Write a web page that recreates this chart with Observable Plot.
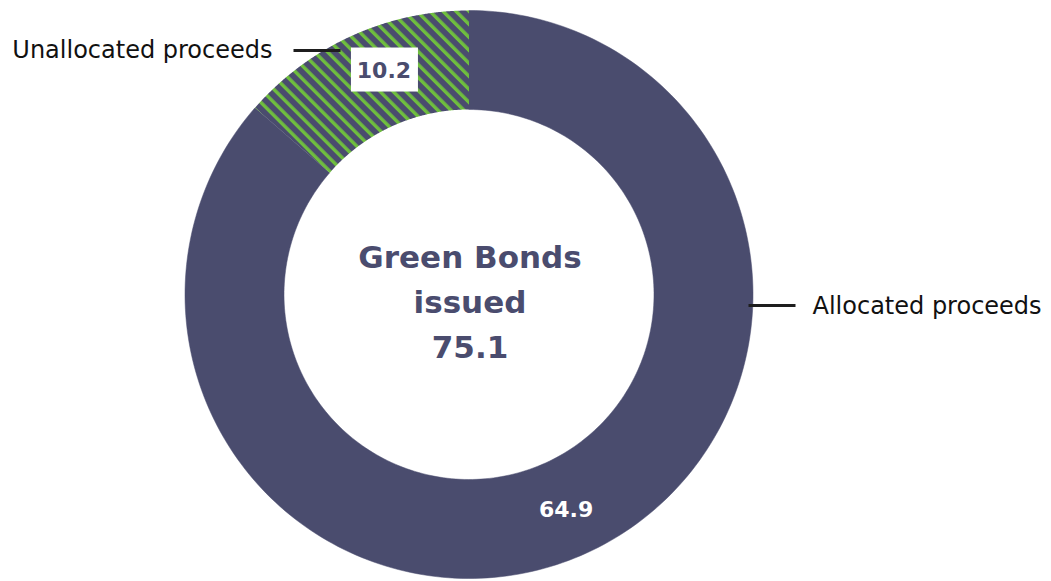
<!DOCTYPE html>
<html>
<head>
<meta charset="utf-8">
<script src="https://cdn.jsdelivr.net/npm/d3@7"></script>
<script src="https://cdn.jsdelivr.net/npm/@observablehq/plot@0.6"></script>
<style>
  html, body { margin: 0; padding: 0; background: #ffffff; }
  #chart { width: 1051px; height: 581px; }
</style>
</head>
<body>
<div id="chart"></div>
<script>
// ---- data ----
const categories = ["Allocated proceeds", "Unallocated proceeds"];
const values = [64.9, 10.2];
const valueLabels = ["64.9", "10.2"];
const centerLines = ["Green Bonds", "issued", "75.1"];

// ---- styling / layout ----
const W = 1051, H = 581;
const cx = 468.5, cy = 294, R = 284, Rin = 185;
const navy = "#4a4c6e";
const green = "#6fbe3e";
const innerFrac = Rin / R;
const total = d3.sum(values);
const X = px => (px - cx) / R;   // pixel -> data (annotation layout helpers)
const Y = py => (cy - py) / R;

// slices (angles clockwise from 12 o'clock)
let acc = 0;
const slices = categories.map((c, i) => {
  const a0 = acc / total * 2 * Math.PI;
  acc += values[i];
  const a1 = acc / total * 2 * Math.PI;
  return {category: c, value: values[i], label: valueLabels[i], a0, a1, mid: (a0 + a1) / 2};
});

function slicePolygon(s) {
  const n = 240, pts = [];
  for (let k = 0; k <= n; ++k) {
    const t = s.a0 + (s.a1 - s.a0) * k / n;
    pts.push({category: s.category, x: Math.sin(t), y: Math.cos(t)});
  }
  for (let k = n; k >= 0; --k) {
    const t = s.a0 + (s.a1 - s.a0) * k / n;
    pts.push({category: s.category, x: innerFrac * Math.sin(t), y: innerFrac * Math.cos(t)});
  }
  return pts;
}
const polys = slices.map(slicePolygon);
const midR = (1 + innerFrac) / 2;
const labelPos = slices.map(s => ({...s, x: midR * Math.sin(s.mid), y: midR * Math.cos(s.mid)}));

// pattern definitions
const defs = () => {
  const d = d3.create("svg:defs");
  const p = d.append("pattern")
    .attr("id", "stripes")
    .attr("patternUnits", "userSpaceOnUse")
    .attr("width", 9.2).attr("height", 9.2)
    .attr("patternTransform", "rotate(-45)");
  p.append("rect").attr("width", 9.2).attr("height", 9.2).attr("fill", navy);
  p.append("rect").attr("x", 0).attr("width", 3.4).attr("height", 9.2).attr("fill", green);
  return d.node();
};

const unalloc = labelPos[1];
const alloc = labelPos[0];

const chart = Plot.plot({
  width: W,
  height: H,
  marginLeft: cx - R,
  marginRight: W - (cx + R),
  marginTop: cy - R,
  marginBottom: H - (cy + R),
  x: {domain: [-1, 1], axis: null},
  y: {domain: [-1, 1], axis: null},
  style: {background: "#ffffff", fontFamily: "DejaVu Sans"},
  marks: [
    defs,
    Plot.line(polys[0], {x: "x", y: "y", fill: navy, stroke: navy, strokeWidth: 0.5, curve: "linear"}),
    Plot.line(polys[1], {x: "x", y: "y", fill: "url(#stripes)", stroke: "none", curve: "linear"}),
    // leader lines
    Plot.link([unalloc], {x1: () => X(293), x2: () => X(340), y1: () => Y(50), y2: () => Y(50), stroke: "#1e1e1e", strokeWidth: 3}),
    Plot.link([alloc], {x1: () => X(748), x2: () => X(795), y1: () => Y(305), y2: () => Y(305), stroke: "#1e1e1e", strokeWidth: 3}),
    // category labels
    Plot.text([unalloc], {x: () => X(272), y: () => Y(57), text: "category", textAnchor: "end", lineAnchor: "bottom", fontSize: 24, fill: "#111111"}),
    Plot.text([alloc], {x: () => X(812), y: () => Y(313), text: "category", textAnchor: "start", lineAnchor: "bottom", fontSize: 24, fill: "#111111"}),
    // white box behind small slice label
    Plot.rect([unalloc], {x1: d => d.x - 33.5 / R, x2: d => d.x + 33.5 / R, y1: d => d.y - 22 / R, y2: d => d.y + 22 / R, dx: 13, dy: -11, fill: "#ffffff"}),
    Plot.text([unalloc], {x: "x", y: "y", text: "label", dx: 12, dy: -10, fontSize: 22, fontWeight: "bold", fill: navy}),
    Plot.text([alloc], {x: "x", y: "y", text: "label", dx: 0, dy: 2, fontSize: 22, fontWeight: "bold", fill: "#ffffff"}),
    // centre text
    Plot.text([centerLines.join("\n")], {x: () => 0, y: () => 0, text: d => d, dy: 4, dx: 1, fontSize: 31, fontWeight: "bold", lineHeight: 1.452, fill: navy})
  ]
});

document.getElementById("chart").appendChild(chart);
</script>
</body>
</html>
